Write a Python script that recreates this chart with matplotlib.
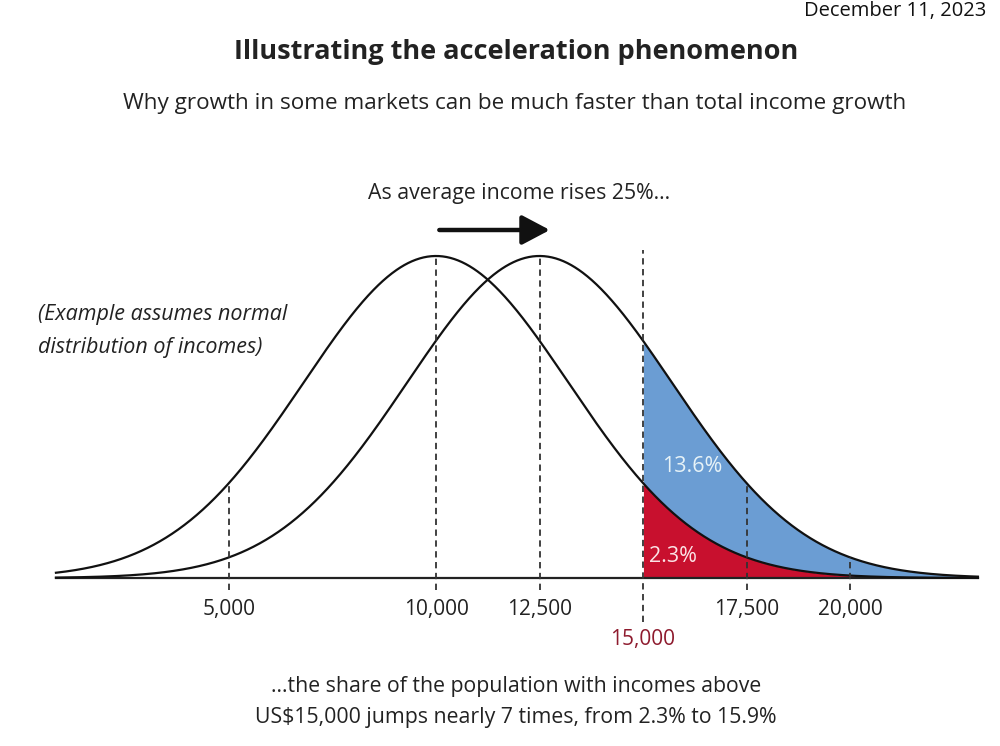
import numpy as np
import matplotlib
matplotlib.use("Agg")
import matplotlib.pyplot as plt

# ---- data ----
mean_before = 10000          # average income before
mean_after = 12500           # average income after a 25% rise
income_sd = 3200             # spread of the (illustrative) normal distribution
threshold = 15000
tick_values = [5000, 10000, 12500, 17500, 20000]
tick_labels = ["5,000", "10,000", "12,500", "17,500", "20,000"]
threshold_label = "15,000"
share_before_label = "2.3%"
share_gain_label = "13.6%"
axis_range = [820, 23090]

title = "Illustrating the acceleration phenomenon"
subtitle = "Why growth in some markets can be much faster than total income growth"
arrow_text = "As average income rises 25%..."
note_text = "(Example assumes normal\ndistribution of incomes)"
bottom_text = "...the share of the population with incomes above\nUS$15,000 jumps nearly 7 times, from 2.3% to 15.9%"
date_text = "December 11, 2023"

# ---- styles ----
BLUE = "#6b9dd3"
RED = "#c8102e"
DARKRED = "#8e1b2e"
FONT = ["Open Sans", "DejaVu Sans"]

W, H = 1000, 746
fig = plt.figure(figsize=(W / 100, H / 100), dpi=100)
ax = fig.add_axes([0, 0, 1, 1])
ax.axis("off")

# pixel mapping: 10,000 -> x=436 px, 41.4 px per 1,000; baseline y=578 px, peak y=256 px
px_per_k = 41.4
ax.set_xlim(mean_before - 436 / px_per_k * 1000, mean_before + (W - 436) / px_per_k * 1000)
ypx = 322.0
ax.set_ylim(-(H - 578) / ypx, 578 / ypx)


def rel_density(x, mu):
    return np.exp(-0.5 * ((x - mu) / income_sd) ** 2)


x = np.linspace(axis_range[0], axis_range[1], 1200)
y1 = rel_density(x, mean_before)
y2 = rel_density(x, mean_after)

mask = x >= threshold
ax.fill_between(x[mask], 0, y1[mask], color=RED, lw=0, zorder=1)
ax.fill_between(x[mask], y1[mask], y2[mask], color=BLUE, lw=0, zorder=1)

ax.plot(axis_range, [0, 0], color="#222222", lw=1.6, zorder=3)
ax.plot(x, y1, color="#111111", lw=1.6, zorder=4)
ax.plot(x, y2, color="#111111", lw=1.6, zorder=4)

dash = dict(color="#333333", lw=1.3, ls=(0, (3.5, 2.5)), zorder=5)
below = -12 / ypx
for v in tick_values:
    if v <= mean_before:
        top = rel_density(v, mean_before)
    else:
        top = rel_density(v, mean_after)
    ax.plot([v, v], [below, top], **dash)
ax.plot([threshold, threshold], [-44 / ypx, 1.02], **dash)

# tick labels
for v, lab in zip(tick_values, tick_labels):
    ax.text(v, -31 / ypx, lab, ha="center", va="center", fontsize=15, color="#222222", family=FONT)
ax.text(threshold, -62 / ypx, threshold_label, ha="center", va="center", fontsize=15,
        color=DARKRED, family=FONT)

# shares
ax.text(threshold + 1180, 112 / ypx, share_gain_label, ha="center", va="center", fontsize=15.5,
        color="#e6f2f7", family=FONT)
ax.text(threshold + 720, 21 / ypx, share_before_label, ha="center", va="center", fontsize=15.5,
        color="#fbe3e6", family=FONT)

# arrow
ax.annotate("", xy=(mean_after + 250, 348 / ypx), xytext=(mean_before + 80, 348 / ypx),
            arrowprops=dict(arrowstyle="-|>,head_length=1.7,head_width=0.9", lw=3.2,
                            color="#111111", shrinkA=0, shrinkB=0))

# texts in figure pixels
def ftext(xp, yp, s, **kw):
    fig.text(xp / W, 1 - yp / H, s, family=FONT, **kw)

ftext(986, 1, date_text, ha="right", va="top", fontsize=14.5, color="#111111")
ftext(516, 52, title, ha="center", va="center", fontsize=19.5, fontweight="bold", color="#222222")
ftext(515, 104, subtitle, ha="center", va="center", fontsize=16.2, color="#222222")
ftext(519, 193, arrow_text, ha="center", va="center", fontsize=15.3, color="#222222")
ftext(38, 331, note_text, ha="left", va="center", fontsize=15.5, style="italic", color="#222222",
      linespacing=1.75)
ftext(516, 702, bottom_text, ha="center", va="center", fontsize=15.3, color="#222222",
      linespacing=1.6)

fig.savefig("out.png", dpi=100, facecolor="white")
